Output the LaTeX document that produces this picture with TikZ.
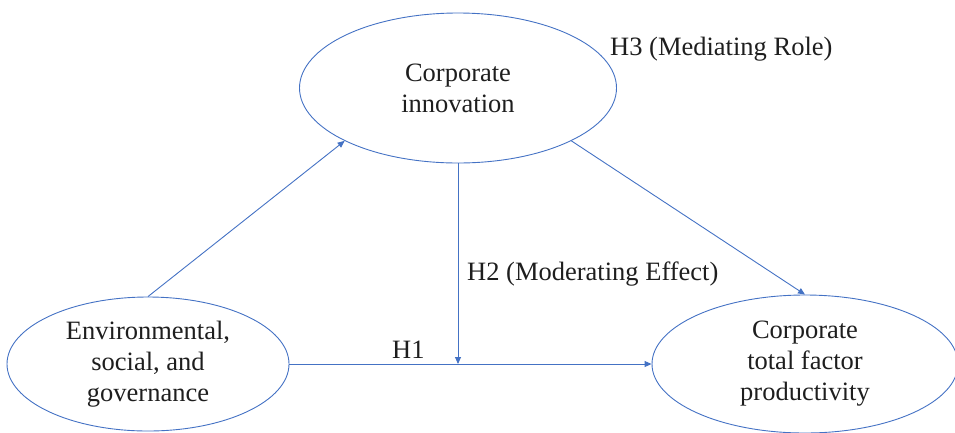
\documentclass[tikz,border=0pt]{standalone}
\usepackage{fontspec}
\setmainfont{Liberation Serif}
\usetikzlibrary{shapes.geometric,arrows.meta}
\definecolor{lineblue}{HTML}{4472C4}
\definecolor{txt}{HTML}{1E1E1E}
\begin{document}
\begin{tikzpicture}[x=1pt,y=-1pt,
  bubble/.style={ellipse,draw=lineblue,line width=0.9pt,inner sep=0pt,align=center,text=txt,
    font=\fontsize{26.5}{31}\selectfont},
  arr/.style={draw=lineblue,line width=0.9pt,-{Triangle[length=7pt,width=6pt]}},
  lbl/.style={anchor=base west,inner sep=0pt,text=txt,font=\fontsize{26.5}{31}\selectfont}]
\useasboundingbox (0,0) rectangle (955,432);
\node[bubble,minimum width=317pt,minimum height=150pt] (innov) at (458,88) {Corporate\\innovation};
\node[bubble,minimum width=282pt,minimum height=134pt] (esg) at (148,364) {Environmental,\\social, and\\governance};
\node[bubble,minimum width=306pt,minimum height=138pt] (tfp) at (805,364) {Corporate\\total factor\\productivity};
\coordinate (m) at (innov.south |- esg.east);
\draw[arr] (esg.north) -- (innov.205.5);
\draw[arr] (innov.335) -- (tfp.north);
\draw[arr] (esg.east) -- (tfp.west);
\draw[arr] (innov.south) -- (m);
\node[lbl] (h3) at (610,55) {H3 (Mediating Role)};
\node[lbl] (h2) at (467,280) {H2 (Moderating Effect)};
\node[lbl] (h1) at (392,358) {H1};
\end{tikzpicture}
\end{document}
